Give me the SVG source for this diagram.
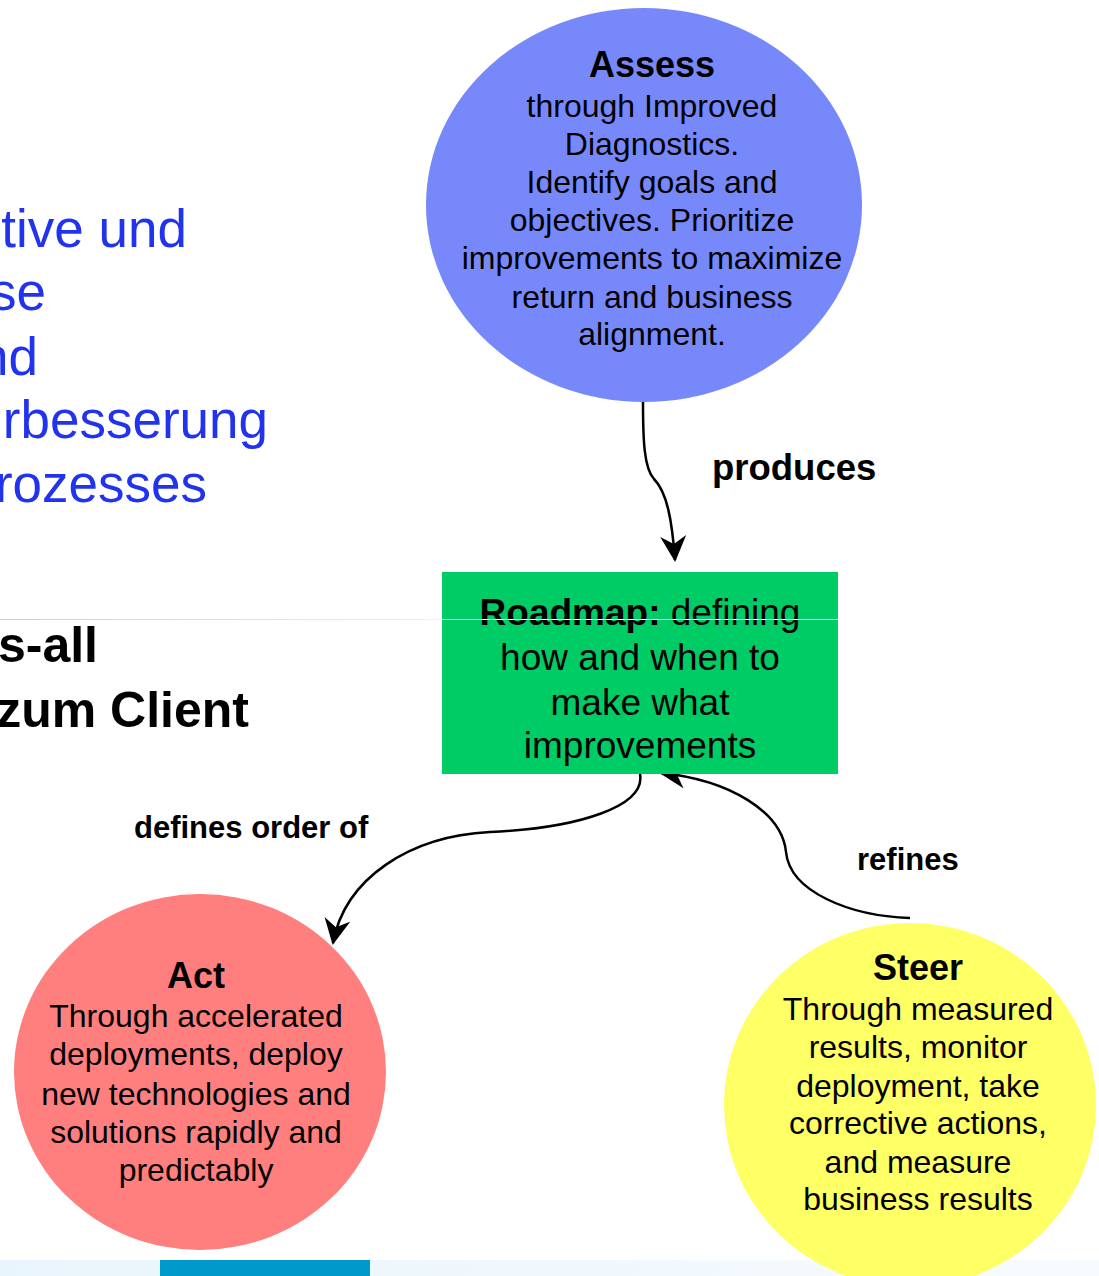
<svg xmlns="http://www.w3.org/2000/svg" width="1099" height="1276" viewBox="0 0 1099 1276">
<style>
text{font-family:"Liberation Sans",Arial,sans-serif;fill:#000}
.title{font-size:36px;font-weight:bold;text-anchor:middle}
.body{font-size:32px;text-anchor:middle}
.rm{font-size:37px;text-anchor:middle}
.lbl{font-size:31px;font-weight:bold}
.blue{font-size:53px;fill:#2233ee;text-anchor:end}
.blk{font-size:50px;font-weight:bold;text-anchor:end}
.conn{fill:none;stroke:#000;stroke-width:2.5}
</style>
<defs>
<marker id="arr" markerUnits="userSpaceOnUse" viewBox="0 0 26 26" markerWidth="26" markerHeight="26" refX="24" refY="13" orient="auto">
<path d="M0,0 L26,13 L0,26 L8,13 z" fill="#000"/>
</marker>
<linearGradient id="band" x1="0" y1="0" x2="1" y2="0">
<stop offset="0" stop-color="#e9f5fc"/>
<stop offset="1" stop-color="#f8fbfe"/>
</linearGradient>
<linearGradient id="hl" x1="0" y1="0" x2="838" y2="0" gradientUnits="userSpaceOnUse">
<stop offset="0" stop-color="#a9dbf1"/>
<stop offset="0.55" stop-color="#eaf5fb"/>
<stop offset="1" stop-color="#ffffff"/>
</linearGradient>
</defs>
<rect width="1099" height="1276" fill="#fff"/>
<g id="background">
<text class="blue" x="187" y="247">tive und</text>
<text class="blue" x="46" y="310">se</text>
<text class="blue" x="38" y="375">nd</text>
<text class="blue" x="268" y="438">rbesserung</text>
<text class="blue" x="207" y="502">rozesses</text>
<text class="blk" x="98" y="662">s-all</text>
<text class="blk" x="249" y="727">zum Client</text>
<rect x="0" y="1260" width="1099" height="16" fill="url(#band)"/>
<rect x="160" y="1260" width="210" height="16" fill="#0099cc"/>
</g>
<g id="connectors">
<path class="conn" d="M643,402 C643,440 644,468 654,479 C667,492 672,520 675,560" marker-end="url(#arr)"/>
<path class="conn" d="M640,774 C646,806 580,828 490,832 C410,836 345,878 333,943" marker-end="url(#arr)"/>
<path class="conn" d="M910,918 C850,916 790,892 786,852 C782,812 730,780 661,773" marker-end="url(#arr)"/>
<text class="lbl" x="712" y="480" style="font-size:36.5px">produces</text>
<text class="lbl" x="134" y="838">defines order of</text>
<text class="lbl" x="857" y="870">refines</text>
</g>
<g id="assess">
<ellipse cx="644" cy="205" rx="218" ry="197" fill="#7789fa"/>
<text class="title" x="652" y="77">Assess</text>
<text class="body" x="652" y="117">through Improved</text>
<text class="body" x="652" y="155">Diagnostics.</text>
<text class="body" x="652" y="193">Identify goals and</text>
<text class="body" x="652" y="231">objectives. Prioritize</text>
<text class="body" x="652" y="269">improvements to maximize</text>
<text class="body" x="652" y="308">return and business</text>
<text class="body" x="652" y="345">alignment.</text>
</g>
<g id="roadmap">
<rect x="442" y="572" width="396" height="202" fill="#00cc66"/>
<text class="rm" x="640" y="625"><tspan font-weight="bold">Roadmap:</tspan> defining</text>
<text class="rm" x="640" y="670">how and when to</text>
<text class="rm" x="640" y="715">make what</text>
<text class="rm" x="640" y="758">improvements</text>
</g>
<g id="act">
<ellipse cx="200" cy="1072" rx="186" ry="178" fill="#ff7f7f"/>
<text class="title" x="196" y="988">Act</text>
<text class="body" x="196" y="1027">Through accelerated</text>
<text class="body" x="196" y="1065">deployments, deploy</text>
<text class="body" x="196" y="1105">new technologies and</text>
<text class="body" x="196" y="1143">solutions rapidly and</text>
<text class="body" x="196" y="1181">predictably</text>
</g>
<g id="steer">
<ellipse cx="910" cy="1105" rx="186" ry="182" fill="#ffff66"/>
<text class="title" x="918" y="980">Steer</text>
<text class="body" x="918" y="1020">Through measured</text>
<text class="body" x="918" y="1058">results, monitor</text>
<text class="body" x="918" y="1097">deployment, take</text>
<text class="body" x="918" y="1134">corrective actions,</text>
<text class="body" x="918" y="1173">and measure</text>
<text class="body" x="918" y="1210">business results</text>
</g>
<line x1="0" y1="619.5" x2="838" y2="619.5" stroke="url(#hl)" stroke-width="1"/>
</svg>
